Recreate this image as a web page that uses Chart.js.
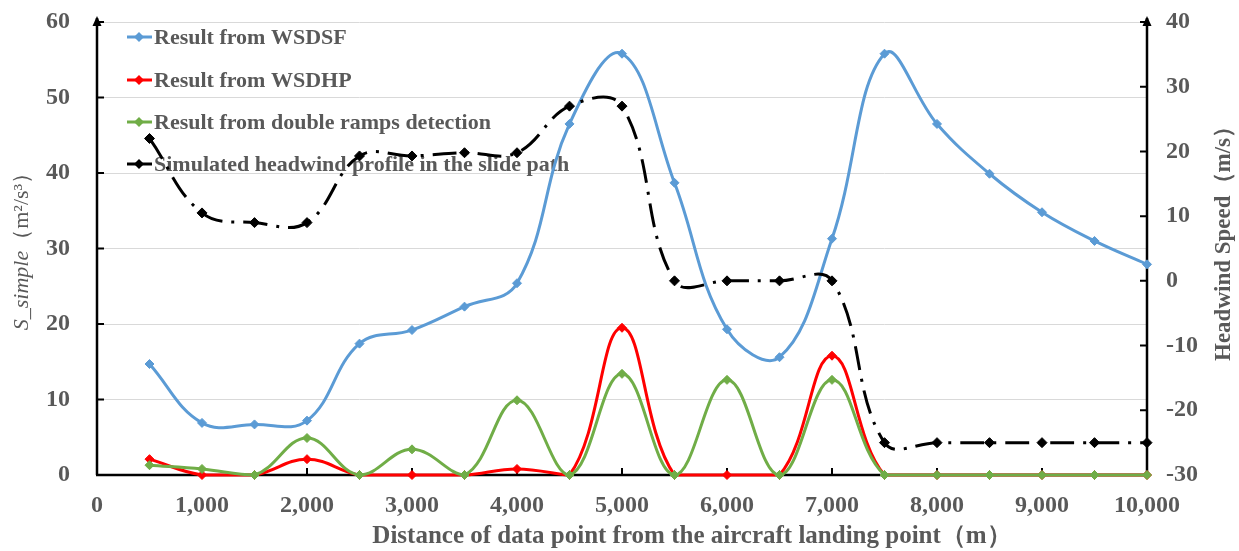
<!DOCTYPE html>
<html><head><meta charset="utf-8">
<script src="https://cdn.jsdelivr.net/npm/chart.js@4/dist/chart.umd.min.js"></script>
<style>html,body{margin:0;padding:0;background:#fff;}#wrap{width:1239px;height:551px;position:relative;}</style>
</head><body><div id="wrap"><canvas id="c" width="1239" height="551"></canvas></div>
<script>
// ---- data ----
const distances = [500,1000,1500,2000,2500,3000,3500,4000,4500,5000,5500,6000,6500,7000,7500,8000,8500,9000,9500,10000];
const wsdsf       = [14.7,6.9,6.7,7.2,17.4,19.2,22.3,25.4,46.5,55.8,38.7,19.3,15.6,31.3,55.8,46.5,39.9,34.8,31.0,27.9];
const wsdhp       = [2.1,0,0,2.1,0,0,0,0.8,0,19.5,0,0,0,15.8,0,0,0,0,0,0];
const doubleRamps = [1.3,0.8,0,4.9,0,3.4,0,9.9,0,13.4,0,12.6,0,12.6,0,0,0,0,0,0];
const headwind    = [22,10.5,9,9,19.3,19.3,19.8,19.8,27,27,0,0,0,0,-25,-25,-25,-25,-25,-25];
const xTicks = [0,1000,2000,3000,4000,5000,6000,7000,8000,9000,10000];
const leftTicks = [0,10,20,30,40,50,60];
const rightTicks = [-30,-20,-10,0,10,20,30,40];
const seriesNames = ['Result from WSDSF','Result from WSDHP','Result from double ramps detection','Simulated headwind profile in the slide path'];
const seriesColors = ['#5b9bd5','#ff0000','#70ad47','#000000'];
const xTitle = 'Distance of data point from the aircraft landing point（m）';
const leftTitleItalic = 'S_simple';
const leftTitleRest = '（m²/s³）';
const rightTitle = 'Headwind Speed（m/s）';

const FONT = '"Liberation Serif", "Times New Roman", serif';
const GREY = '#595959';
const pts = arr => distances.map((d,i)=>({x:d,y:arr[i]}));

function mk(i, arr, axis, order, extra){
  return Object.assign({
    label: seriesNames[i], data: pts(arr), yAxisID: axis, order: order,
    borderColor: seriesColors[i], backgroundColor: seriesColors[i],
    borderWidth: 3, pointStyle: 'rectRot', pointRadius: 4.5, pointBorderWidth: 1,
    tension: 0.4, fill: false, clip: false
  }, extra||{});
}

const decor = {
  id:'decor',
  beforeDatasetsDraw(chart){
    const ctx = chart.ctx, a = chart.chartArea;
    const sx = chart.scales.x, sy = chart.scales.y, sy1 = chart.scales.y1;
    const rows = [37, 80, 122, 164];
    ctx.save();
    seriesNames.forEach((name,i)=>{
      const y = rows[i];
      ctx.strokeStyle = seriesColors[i]; ctx.lineWidth = 3;
      ctx.beginPath(); ctx.moveTo(127,y); ctx.lineTo(152,y); ctx.stroke();
      ctx.fillStyle = seriesColors[i];
      ctx.beginPath(); ctx.moveTo(139,y-5); ctx.lineTo(144,y); ctx.lineTo(139,y+5); ctx.lineTo(134,y); ctx.closePath(); ctx.fill();
      ctx.fillStyle = GREY; ctx.font = 'bold 22px ' + FONT; ctx.textBaseline = 'middle'; ctx.textAlign='left';
      ctx.fillText(name, 154, y+1);
    });
    ctx.strokeStyle = '#000'; ctx.fillStyle = '#000'; ctx.lineWidth = 2.5;
    // axis lines
    ctx.beginPath();
    ctx.moveTo(a.left, a.bottom); ctx.lineTo(a.left, a.top-4);
    ctx.moveTo(a.right, a.bottom); ctx.lineTo(a.right, a.top-4);
    ctx.moveTo(a.left-1, a.bottom); ctx.lineTo(a.right+1, a.bottom);
    ctx.stroke();
    // arrows
    [a.left, a.right].forEach(x=>{
      ctx.beginPath(); ctx.moveTo(x, a.top-6); ctx.lineTo(x+4.5, a.top+4); ctx.lineTo(x-4.5, a.top+4); ctx.closePath(); ctx.fill();
    });
    // inside tick marks
    ctx.lineWidth = 2;
    ctx.beginPath();
    leftTicks.forEach(v=>{ const y = sy.getPixelForValue(v); ctx.moveTo(a.left, y); ctx.lineTo(a.left+7, y); });
    rightTicks.forEach(v=>{ const y = sy1.getPixelForValue(v); ctx.moveTo(a.right, y); ctx.lineTo(a.right-7, y); });
    xTicks.forEach(v=>{ const x = sx.getPixelForValue(v); ctx.moveTo(x, a.bottom); ctx.lineTo(x, a.bottom-7); });
    ctx.stroke();
    ctx.restore();
  },
  afterDraw(chart){
    const ctx = chart.ctx;
    ctx.save();
    ctx.fillStyle = GREY; ctx.textBaseline = 'middle';
    ctx.font = 'bold 25px ' + FONT; ctx.textAlign = 'center';
    ctx.fillText(xTitle, 692, 537);
    ctx.font = 'bold 23px ' + FONT;
    ctx.save(); ctx.translate(1224, 238); ctx.rotate(-Math.PI/2);
    ctx.fillText(rightTitle, 0, 0); ctx.restore();
    ctx.save(); ctx.translate(22, 246); ctx.rotate(-Math.PI/2);
    ctx.font = 'italic 22px ' + FONT; const w1 = ctx.measureText(leftTitleItalic).width;
    ctx.font = '22px ' + FONT; const w2 = ctx.measureText(leftTitleRest).width;
    ctx.textAlign = 'left';
    ctx.font = 'italic 22px ' + FONT; ctx.fillText(leftTitleItalic, -(w1+w2)/2, 0);
    ctx.font = '22px ' + FONT; ctx.fillText(leftTitleRest, -(w1+w2)/2 + w1, 0);
    ctx.restore();
    ctx.restore();
  }
};

const tickFont = {family: FONT, size: 24, weight: 'bold'};
const noVPad = s => { s.paddingTop = 0; s.paddingBottom = 0; };
new Chart(document.getElementById('c'), {
  type: 'line',
  data: { datasets: [
    mk(0, wsdsf, 'y', 3),
    mk(1, wsdhp, 'y', 2),
    mk(2, doubleRamps, 'y', 1),
    mk(3, headwind, 'y1', 0, {borderDash:[24,9,3,9], pointRadius:5})
  ]},
  options: {
    responsive:false, animation:false, devicePixelRatio:1,
    layout:{padding:{top:22,left:0,right:0,bottom:0}},
    plugins:{legend:{display:false}, tooltip:{enabled:false}},
    scales:{
      x:{type:'linear', min:0, max:10000,
        afterBuildTicks:s=>{s.ticks = xTicks.map(v=>({value:v}));},
        afterFit:s=>{s.height = 76;},
        grid:{display:false, drawTicks:false}, border:{display:false},
        ticks:{font:tickFont, color:GREY, padding:16, maxRotation:0, autoSkip:false,
          callback:v=>Number(v).toLocaleString('en-US')}},
      y:{position:'left', min:0, max:60,
        afterBuildTicks:s=>{s.ticks = leftTicks.map(v=>({value:v}));},
        afterFit:s=>{s.width = 97; noVPad(s);},
        grid:{color:'#d9d9d9', lineWidth:1, drawTicks:false}, border:{display:false},
        ticks:{font:tickFont, color:GREY, padding:27}},
      y1:{position:'right', min:-30, max:40,
        afterBuildTicks:s=>{s.ticks = rightTicks.map(v=>({value:v}));},
        afterFit:s=>{s.width = 92; noVPad(s);},
        grid:{drawOnChartArea:false, drawTicks:false}, border:{display:false},
        ticks:{font:tickFont, color:GREY, padding:19}}
    }
  },
  plugins:[decor]
});
</script></body></html>
